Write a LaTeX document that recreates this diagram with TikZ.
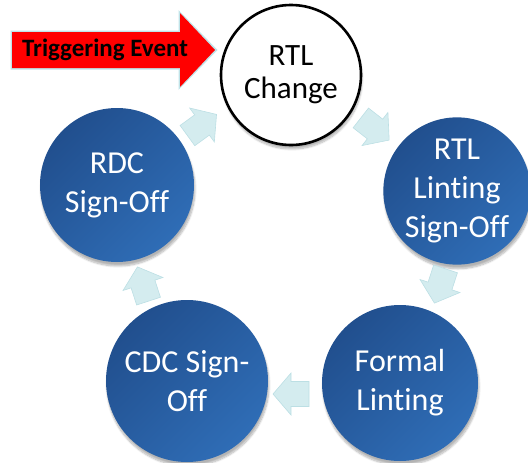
\documentclass[tikz,border=0pt]{standalone}
\usepackage{fontspec}
\setmainfont{Carlito}[Ligatures=NoCommon]
\usetikzlibrary{shadows.blur}

\definecolor{stepdark}{HTML}{214F8E}
\definecolor{steplight}{HTML}{2F6DB6}
\definecolor{flowfill}{HTML}{D4ECEF}
\definecolor{flowedge}{HTML}{BCDFE4}
\definecolor{glow}{HTML}{BFE3E8}

\tikzset{
  stage/.style={circle, inner sep=0pt, text=white, align=center,
    font=\fontsize{32}{39}\selectfont,
    shading=axis, top color=stepdark, bottom color=steplight, shading angle=45,
    blur shadow={shadow xshift=1pt, shadow yshift=-4pt, shadow opacity=30, shadow blur steps=8}},
  startstage/.style={circle, inner sep=0pt, align=center, fill=white, draw=black,
    line width=2.6pt, font=\fontsize{31}{33}\selectfont,
    blur shadow={shadow xshift=1pt, shadow yshift=-4pt, shadow opacity=30, shadow blur steps=8}},
  flow/.style={draw=flowedge, fill=flowfill, line width=0.6pt, line join=miter},
  trigtext/.style={font=\fontsize{25}{28}\bfseries\selectfont, text=black},
  % block arrow pointing along the local x axis, centred on the pic position
  pics/flowarrow/.style={code={
    \coordinate (-c) at (0,0);
    \filldraw[flow] (-18,-12.5) -- (0,-12.5) -- (0,-21) -- (18,0)
        -- (0,21) -- (0,12.5) -- (-18,12.5) -- cycle;}}
}

\begin{document}
\begin{tikzpicture}[x=1pt, y=-1pt]
  \useasboundingbox (0,0) rectangle (528,463);

  % process stages
  \node[startstage, minimum size=140pt] (rtl)    at (291,75)  {RTL\\Change};
  \node[stage, minimum size=142pt]      (lint)   at (457,191) {RTL\\Linting\\Sign-Off};
  \node[stage, minimum size=156pt]      (formal) at (400,383) {Formal\\Linting};
  \node[stage, minimum size=162pt]      (cdc)    at (187,381) {CDC Sign-\\Off};
  \node[stage, minimum size=154pt]      (rdc)    at (117,185) {RDC\\Sign-Off};

  % block arrows between the stages
  \pic[rotate=-38]  (f1) at (375,129) {flowarrow};
  \pic[rotate=-108] (f2) at (440,286) {flowarrow};
  \pic[rotate=180]  (f3) at (291,394) {flowarrow};
  \pic[rotate=108]  (f4) at (143,284) {flowarrow};
  \pic[rotate=36]   (f5) at (202,125) {flowarrow};

  % triggering event arrow
  \coordinate (tip) at (215,50);
  \fill[glow] (10.5,30.5) -- (178.5,30.5) -- (178.5,10) -- (217.5,50)
      -- (178.5,90) -- (178.5,69.5) -- (10.5,69.5) -- cycle;
  \fill[red] (12,32) -- (180,32) -- (180,13) -- (tip) -- (180,87)
      -- (180,68) -- (12,68) -- cycle;
  \node[trigtext] (trig) at (105,50) {Triggering Event};
\end{tikzpicture}
\end{document}
